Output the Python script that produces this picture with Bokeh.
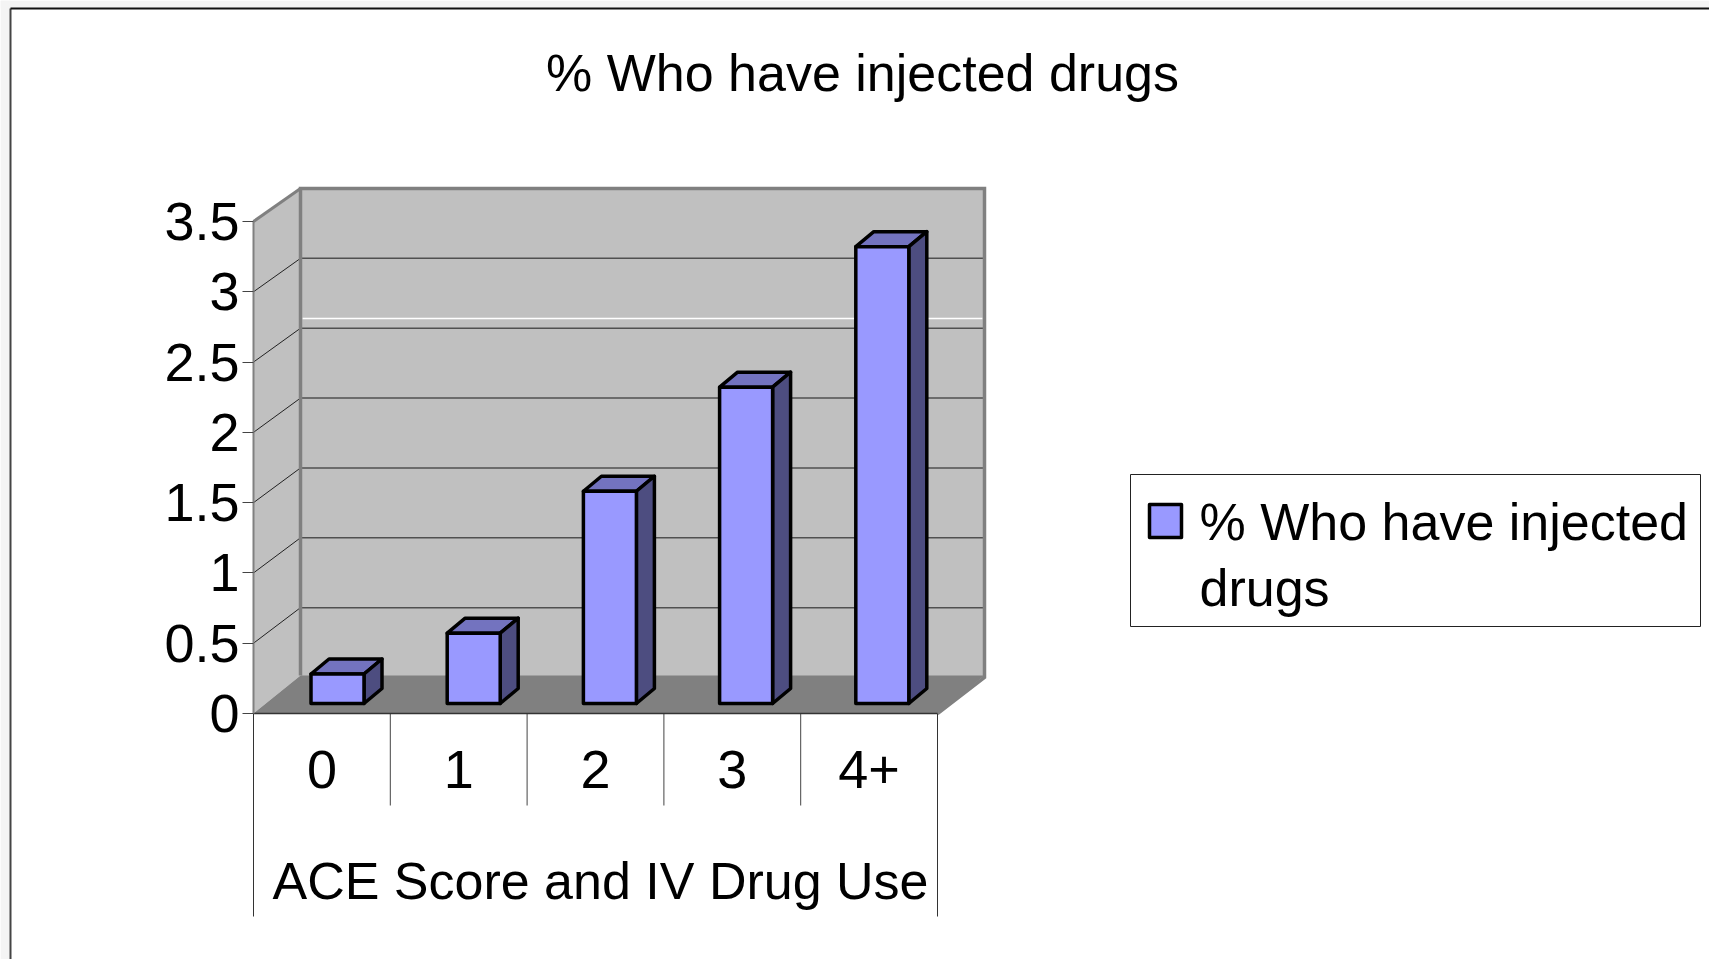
from bokeh.core.properties import value
from bokeh.embed import file_html
from bokeh.models import FixedTicker, LinearAxis, Range1d
from bokeh.plotting import figure
from bokeh.resources import INLINE

# Chart data
categories = ["0", "1", "2", "3", "4+"]
injected_pct = [0.21, 0.5, 1.51, 2.25, 3.25]
y_ticks = [0, 0.5, 1, 1.5, 2, 2.5, 3, 3.5]
y_tick_labels = ["0", "0.5", "1", "1.5", "2", "2.5", "3", "3.5"]

chart_title = "% Who have injected drugs"
x_title = "ACE Score and IV Drug Use"
legend_lines = ["% Who have injected", "drugs"]

W, H = 1709, 959
FONT = value("Liberation Sans")
FS = "52px"

# The frame fills the page; the front plane of the 3-D box sets the data scales.
FRONT_L, FRONT_R = 253, 937
FRONT_TOP, FRONT_BOT = 221, 713
BACK_L, BACK_R = 300, 984
BACK_TOP, BACK_BOT = 188, 677
FLOOR_BACK = 675

per_cat = (FRONT_R - FRONT_L) / len(categories)
per_unit = (FRONT_BOT - FRONT_TOP) / 3.5


def dx(px):
    return (px - FRONT_L) / per_cat


def dy(py):
    return (FRONT_BOT - py) / per_unit


p = figure(
    width=W, height=H,
    x_range=Range1d(dx(0), dx(W)), y_range=Range1d(dy(H), dy(0)),
    output_backend="svg", toolbar_location=None,
    min_border=0, x_axis_type=None, y_axis_type=None,
)
p.grid.visible = False
p.outline_line_color = None
p.background_fill_color = "#ffffff"
p.border_fill_color = "#ffffff"

# Slide background showing around the chart area, and the chart border
p.quad(left=dx(0), right=dx(W), top=dy(0), bottom=dy(8), fill_color="#f4f4f4", line_color=None)
p.quad(left=dx(0), right=dx(10), top=dy(0), bottom=dy(H), fill_color="#f4f4f4", line_color=None)
p.line([dx(10), dx(10)], [dy(H), dy(8)], line_color="#444444", line_width=2)
p.line([dx(10), dx(W)], [dy(8), dy(8)], line_color="#111111", line_width=2)

# Walls and floor of the box
p.patch([dx(FRONT_L), dx(BACK_L), dx(BACK_L), dx(FRONT_L)],
        [dy(FRONT_TOP), dy(BACK_TOP), dy(FLOOR_BACK), dy(FRONT_BOT)],
        fill_color="#c0c0c0", line_color=None)
p.quad(left=dx(BACK_L), right=dx(BACK_R), top=dy(BACK_TOP), bottom=dy(BACK_BOT),
       fill_color="#c0c0c0", line_color=None)
p.patch([dx(FRONT_L), dx(BACK_L), dx(BACK_R), dx(FRONT_R)],
        [dy(FRONT_BOT), dy(FLOOR_BACK), dy(FLOOR_BACK), dy(FRONT_BOT)],
        fill_color="#808080", line_color=None)

# Gridlines run across the back wall and slant down the side wall
back_per_unit = (BACK_BOT - BACK_TOP) / 3.5
for v in y_ticks[1:-1]:
    back_y = dy(BACK_BOT - v * back_per_unit)
    p.line([dx(BACK_L), dx(BACK_R)], [back_y, back_y], line_color="#505050", line_width=1.5)
    p.line([dx(FRONT_L), dx(BACK_L)], [v, back_y], line_color="#222222", line_width=1)

# Thin white line across the back wall
p.line([dx(BACK_L + 2), dx(BACK_R - 2)], [dy(318), dy(318)], line_color="#ffffff", line_width=1.5)

# Wall edges
p.line([dx(BACK_L), dx(BACK_L), dx(BACK_R), dx(BACK_R), dx(FRONT_R)],
       [dy(FLOOR_BACK), dy(BACK_TOP), dy(BACK_TOP), dy(BACK_BOT), dy(FRONT_BOT)],
       line_color="#808080", line_width=3.5, line_join="miter")
p.line([dx(FRONT_L), dx(BACK_L)], [dy(FRONT_TOP), dy(BACK_TOP)], line_color="#808080", line_width=3)

# Bars: front faces sit forward of the wall, each with a lit top and a shaded side
BAR_W = 53
BAR_STEP = 136.2
FIRST_CENTER = 337
DEPTH_X, DEPTH_Y = 18, 15
BASE_PY = 703
bar_cx = [dx(FIRST_CENTER + i * BAR_STEP) for i in range(len(categories))]
half = BAR_W / 2 / per_cat
base = dy(BASE_PY)
d_x = DEPTH_X / per_cat
d_y = DEPTH_Y / per_unit
lefts = [c - half for c in bar_cx]
rights = [c + half for c in bar_cx]
tops = [base + v for v in injected_pct]

outline = dict(line_color="#000000", line_width=3.5, line_join="round")
p.patches(
    [[l, l + d_x, r + d_x, r] for l, r in zip(lefts, rights)],
    [[t, t + d_y, t + d_y, t] for t in tops],
    fill_color="#7373bf", **outline,
)
p.patches(
    [[r, r + d_x, r + d_x, r] for r in rights],
    [[t, t + d_y, base + d_y, base] for t in tops],
    fill_color="#4d4d80", **outline,
)
p.quad(left=lefts, right=rights, top=tops, bottom=base, fill_color="#9999ff", **outline)

# Value axis on the front edge of the side wall
y_axis = LinearAxis(
    fixed_location=dx(FRONT_L),
    ticker=FixedTicker(ticks=y_ticks),
    major_label_overrides=dict(zip(y_ticks, y_tick_labels)),
    bounds=(0, 3.5),
    axis_line_color="#808080", axis_line_width=2,
    major_tick_line_color="#444444", major_tick_line_width=1,
    major_tick_in=0, major_tick_out=11, minor_tick_line_color=None,
    major_label_text_font="Liberation Sans", major_label_text_font_size="54px",
    major_label_text_color="#000000", major_label_standoff=3,
)
p.add_layout(y_axis, "left")

# Category axis along the front edge of the floor
x_axis = LinearAxis(
    fixed_location=0,
    ticker=FixedTicker(ticks=[i + 0.5 for i in range(len(categories))]),
    major_label_overrides={i + 0.5: c for i, c in enumerate(categories)},
    bounds=(0, len(categories)),
    axis_line_color="#333333", axis_line_width=1.5,
    major_tick_line_color=None, minor_tick_line_color=None,
    major_label_text_font="Liberation Sans", major_label_text_font_size="54px",
    major_label_text_color="#000000", major_label_standoff=31,
)
p.add_layout(x_axis, "below")

# Separators between the category labels, with longer outer ones framing the axis title
for i in range(1, len(categories)):
    p.line([i, i], [0, dy(805)], line_color="#444444", line_width=1)
for i in (0, len(categories)):
    p.line([i, i], [0, dy(916)], line_color="#333333", line_width=1)

text_style = dict(text_font=FONT, text_font_size=FS, text_color="#000000")
p.text([dx(862)], [dy(72)], text=[chart_title], text_align="center",
       text_baseline="alphabetic", **text_style)
p.text([dx(600)], [dy(880)], text=[x_title], text_align="center",
       text_baseline="alphabetic", **text_style)

# Legend
p.quad(left=dx(1130), right=dx(1700), top=dy(474), bottom=dy(626),
       fill_color="#ffffff", line_color="#222222", line_width=1)
p.quad(left=dx(1149), right=dx(1181), top=dy(504), bottom=dy(537),
       fill_color="#9999ff", line_color="#000000", line_width=3.5, line_join="round")
p.text([dx(1199)], [dy(521)], text=[legend_lines[0]], text_align="left",
       text_baseline="alphabetic", **text_style)
p.text([dx(1199)], [dy(587)], text=[legend_lines[1]], text_align="left",
       text_baseline="alphabetic", **text_style)

open("out.html", "w").write(file_html(p, INLINE))
